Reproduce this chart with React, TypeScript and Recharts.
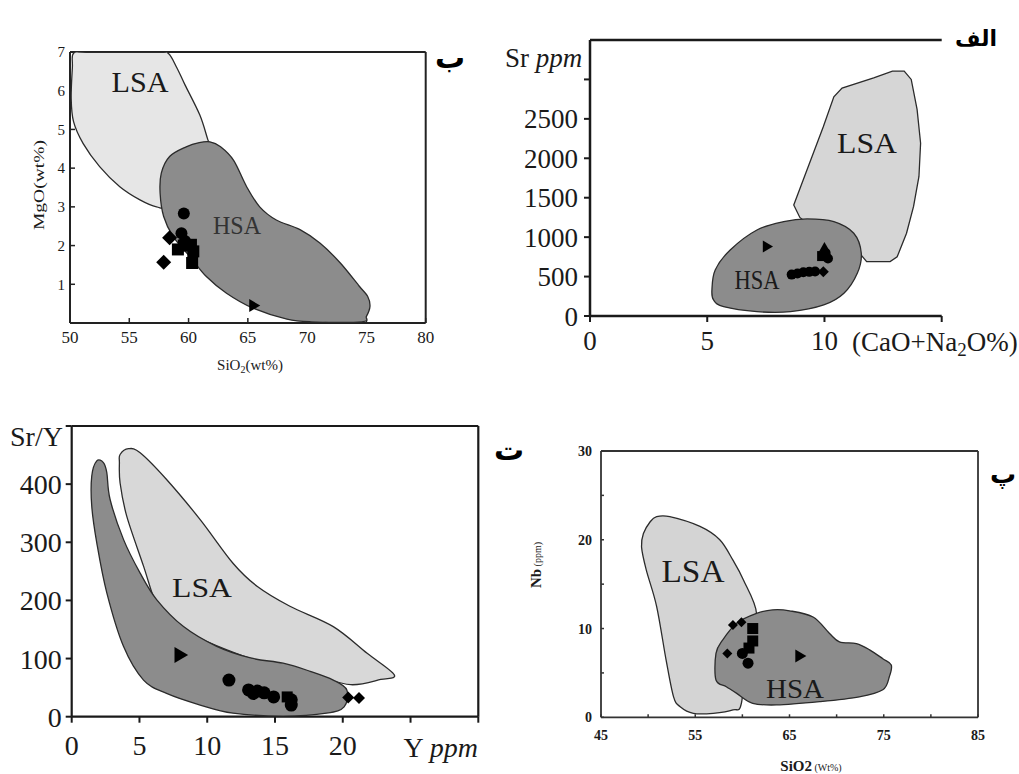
import React from 'react';
import { ScatterChart, Scatter, XAxis, YAxis, ReferenceLine } from 'recharts';

type Pt = { x: number; y: number };

// panel ب : MgO vs SiO2
const mgX = [50, 55, 60, 65, 70, 75, 80];
const mgY = [1, 2, 3, 4, 5, 6, 7];
const mgLsa: Pt[] = [
  { x: 50.3, y: 6.97 }, { x: 51.5, y: 6.99 }, { x: 57.4, y: 6.99 }, { x: 58.3, y: 6.96 }, { x: 59.0, y: 6.6 },
  { x: 59.7, y: 6.15 }, { x: 60.95, y: 5.37 }, { x: 61.63, y: 4.73 }, { x: 62.0, y: 4.4 }, { x: 61.0, y: 3.6 },
  { x: 58.6, y: 3.0 }, { x: 57.3, y: 3.0 }, { x: 55.9, y: 3.18 }, { x: 54.2, y: 3.52 }, { x: 52.5, y: 4.04 },
  { x: 51.1, y: 4.64 }, { x: 50.3, y: 5.2 }, { x: 50.1, y: 5.8 }, { x: 50.2, y: 6.6 },
];
const mgHsa: Pt[] = [
  { x: 61.8, y: 4.68 }, { x: 62.7, y: 4.55 }, { x: 63.8, y: 4.2 }, { x: 64.9, y: 3.52 }, { x: 66.0, y: 3.0 },
  { x: 67.4, y: 2.66 }, { x: 69.4, y: 2.41 }, { x: 71.1, y: 2.06 }, { x: 72.8, y: 1.55 }, { x: 74.4, y: 0.95 },
  { x: 75.1, y: 0.69 }, { x: 75.3, y: 0.43 }, { x: 75.0, y: 0.17 }, { x: 74.6, y: 0.03 }, { x: 70.4, y: 0.03 },
  { x: 68.3, y: 0.1 }, { x: 65.4, y: 0.39 }, { x: 63.2, y: 0.77 }, { x: 61.5, y: 1.2 }, { x: 60.1, y: 1.72 },
  { x: 58.7, y: 2.23 }, { x: 57.9, y: 2.75 }, { x: 57.6, y: 3.35 }, { x: 57.7, y: 3.87 }, { x: 58.4, y: 4.3 },
  { x: 59.8, y: 4.55 }, { x: 60.9, y: 4.66 },
];
const mgCircle: Pt[] = [{ x: 59.6, y: 2.83 }, { x: 59.4, y: 2.32 }, { x: 59.7, y: 2.12 }];
const mgSquare: Pt[] = [{ x: 59.1, y: 1.9 }, { x: 59.6, y: 2.0 }, { x: 60.2, y: 2.02 }, { x: 60.4, y: 1.85 }, { x: 60.3, y: 1.55 }];
const mgDiamond: Pt[] = [{ x: 58.4, y: 2.2 }, { x: 57.9, y: 1.57 }];
const mgTri: Pt[] = [{ x: 65.5, y: 0.45 }];

// panel الف : Sr vs CaO+Na2O
const srX = [0, 5, 10, 15];
const srY = [0, 500, 1000, 1500, 2000, 2500, 3000];
const srLsa: Pt[] = [
  { x: 8.69, y: 1408 }, { x: 9.1, y: 1730 }, { x: 9.95, y: 2400 }, { x: 10.4, y: 2780 }, { x: 10.75, y: 2890 },
  { x: 12.1, y: 3020 }, { x: 12.9, y: 3105 }, { x: 13.4, y: 3105 }, { x: 13.7, y: 3000 }, { x: 13.95, y: 2620 },
  { x: 14.1, y: 2190 }, { x: 14.03, y: 1770 }, { x: 13.8, y: 1390 }, { x: 13.5, y: 1050 }, { x: 13.1, y: 750 },
  { x: 12.8, y: 690 }, { x: 11.8, y: 690 }, { x: 11.5, y: 795 }, { x: 10.0, y: 1000 }, { x: 8.95, y: 1250 },
];
const srHsa: Pt[] = [
  { x: 5.2, y: 330 }, { x: 5.34, y: 584 }, { x: 5.98, y: 838 }, { x: 7.12, y: 1091 }, { x: 8.26, y: 1197 },
  { x: 9.26, y: 1231 }, { x: 10.4, y: 1197 }, { x: 11.25, y: 1049 }, { x: 11.57, y: 795 }, { x: 11.4, y: 541 },
  { x: 10.83, y: 288 }, { x: 9.97, y: 140 }, { x: 8.55, y: 55 }, { x: 7.12, y: 55 }, { x: 5.7, y: 118 }, { x: 5.27, y: 203 },
];
const srCircle: Pt[] = [
  { x: 8.6, y: 525 }, { x: 8.85, y: 540 }, { x: 9.1, y: 555 }, { x: 9.35, y: 560 }, { x: 9.6, y: 565 },
  { x: 10.05, y: 800 }, { x: 10.15, y: 730 },
];
const srDiamond: Pt[] = [{ x: 9.95, y: 560 }];
const srSquare: Pt[] = [{ x: 9.9, y: 760 }];
const srUp: Pt[] = [{ x: 10.0, y: 870 }];
const srTri: Pt[] = [{ x: 7.55, y: 880 }];

// panel ت : Sr/Y vs Y
const syX = [0, 5, 10, 15, 20, 25, 30];
const syY = [0, 100, 200, 300, 400, 500];
const syLsa: Pt[] = [
  { x: 3.57, y: 451 }, { x: 4.19, y: 461 }, { x: 5.05, y: 454 }, { x: 7.0, y: 408 }, { x: 9.48, y: 339 },
  { x: 11.9, y: 264 }, { x: 13.7, y: 224 }, { x: 16.1, y: 190 }, { x: 19.3, y: 155 }, { x: 21.8, y: 109 },
  { x: 23.8, y: 72 }, { x: 22.8, y: 64 }, { x: 20.6, y: 55 }, { x: 18.1, y: 70 }, { x: 15.9, y: 85 },
  { x: 13.9, y: 95 }, { x: 11.45, y: 115 }, { x: 8.99, y: 140 }, { x: 7.0, y: 170 }, { x: 6.16, y: 198 },
  { x: 5.3, y: 259 }, { x: 4.06, y: 345 }, { x: 3.57, y: 402 }, { x: 3.52, y: 437 },
];
const syHsa: Pt[] = [
  { x: 1.48, y: 414 }, { x: 1.85, y: 440 }, { x: 2.34, y: 437 }, { x: 2.59, y: 420 }, { x: 2.83, y: 374 },
  { x: 3.82, y: 305 }, { x: 5.05, y: 247 }, { x: 6.28, y: 201 }, { x: 8.25, y: 155 }, { x: 10.7, y: 121 },
  { x: 13.2, y: 101 }, { x: 15.6, y: 92 }, { x: 17.6, y: 78 }, { x: 19.3, y: 63 }, { x: 20.3, y: 46 },
  { x: 20.1, y: 17 }, { x: 18.8, y: 6 }, { x: 15.6, y: 1 }, { x: 11.9, y: 6 }, { x: 9.48, y: 20 },
  { x: 7.0, y: 40 }, { x: 5.3, y: 63 }, { x: 3.82, y: 121 }, { x: 2.59, y: 213 }, { x: 1.85, y: 299 }, { x: 1.48, y: 362 },
];
const syCircle: Pt[] = [
  { x: 11.6, y: 63 }, { x: 13.05, y: 46 }, { x: 13.4, y: 40 }, { x: 13.7, y: 44 }, { x: 14.2, y: 41 },
  { x: 14.9, y: 34 }, { x: 16.2, y: 29 }, { x: 16.2, y: 20 },
];
const sySquare: Pt[] = [{ x: 15.9, y: 34 }];
const syDiamond: Pt[] = [{ x: 20.4, y: 33 }, { x: 21.2, y: 32 }];
const syTri: Pt[] = [{ x: 8.0, y: 106 }];

// panel پ : Nb vs SiO2
const nbX = [45, 50, 55, 60, 65, 70, 75, 80, 85];
const nbY = [0, 5, 10, 15, 20, 25, 30];
const nbLsa: Pt[] = [
  { x: 50.9, y: 22.6 }, { x: 52.3, y: 22.6 }, { x: 55.5, y: 21.5 }, { x: 57.6, y: 20.0 }, { x: 59.0, y: 17.7 },
  { x: 60.1, y: 15.5 }, { x: 61.5, y: 11.7 }, { x: 60.5, y: 8.0 }, { x: 59.9, y: 1.6 }, { x: 59.0, y: 0.83 },
  { x: 56.9, y: 0.45 }, { x: 54.8, y: 0.45 }, { x: 53.4, y: 1.2 }, { x: 52.7, y: 2.3 }, { x: 51.9, y: 6.5 },
  { x: 50.9, y: 12.5 }, { x: 49.8, y: 16.6 }, { x: 49.3, y: 19.2 }, { x: 49.5, y: 20.7 }, { x: 50.2, y: 22.0 },
];
const nbHsa: Pt[] = [
  { x: 57.2, y: 4.2 }, { x: 57.2, y: 7.2 }, { x: 57.9, y: 8.7 }, { x: 59.4, y: 10.6 }, { x: 61.5, y: 11.7 },
  { x: 63.2, y: 12.1 }, { x: 65.0, y: 12.0 }, { x: 67.5, y: 11.3 }, { x: 69.2, y: 9.5 }, { x: 70.3, y: 8.5 },
  { x: 72.1, y: 8.3 }, { x: 73.5, y: 7.6 }, { x: 74.9, y: 6.6 }, { x: 75.8, y: 5.9 }, { x: 75.6, y: 4.6 },
  { x: 74.9, y: 3.1 }, { x: 72.4, y: 2.3 }, { x: 68.2, y: 1.76 }, { x: 63.6, y: 1.39 }, { x: 61.1, y: 1.58 },
  { x: 59.4, y: 2.7 }, { x: 58.3, y: 3.45 },
];
const nbDiamond: Pt[] = [{ x: 59.0, y: 10.4 }, { x: 59.9, y: 10.7 }, { x: 58.4, y: 7.2 }];
const nbSquare: Pt[] = [{ x: 61.1, y: 10.0 }, { x: 61.1, y: 8.6 }, { x: 60.7, y: 7.8 }];
const nbCircle: Pt[] = [{ x: 60.0, y: 7.2 }, { x: 60.6, y: 6.1 }];
const nbTri: Pt[] = [{ x: 66.1, y: 6.9 }];

const W = 1019;
const H = 774;
const SERIF = '"Liberation Serif", "Times New Roman", serif';
const INK = '#1a1a1a';
const DARK = '#8c8c8c';

function closedPath(pts: { x: number; y: number }[], smooth: boolean) {
  if (!pts || !pts.length) return '';
  if (!smooth) return 'M' + pts.map((p) => `${p.x},${p.y}`).join('L') + 'Z';
  const n = pts.length;
  let d = `M${pts[0].x},${pts[0].y}`;
  for (let i = 0; i < n; i++) {
    const p0 = pts[(i - 1 + n) % n];
    const p1 = pts[i];
    const p2 = pts[(i + 1) % n];
    const p3 = pts[(i + 2) % n];
    const c1x = p1.x + (p2.x - p0.x) / 6;
    const c1y = p1.y + (p2.y - p0.y) / 6;
    const c2x = p2.x - (p3.x - p1.x) / 6;
    const c2y = p2.y - (p3.y - p1.y) / 6;
    d += `C${c1x},${c1y} ${c2x},${c2y} ${p2.x},${p2.y}`;
  }
  return d + 'Z';
}

const noDot = () => <g />;

const field = (id: string, data: Pt[], fill: string, smooth = true, extra: any = {}) => (
  <Scatter
    key={id}
    data={data}
    isAnimationActive={false}
    shape={noDot}
    {...extra}
    line={(p: any) => <path d={closedPath(p.points, smooth)} fill={fill} stroke="#2b2b2b" strokeWidth={1.3} />}
  />
);

const marker = (kind: string, s: number) => (props: any) => {
  const { cx, cy } = props;
  if (cx == null || cy == null) return <g />;
  if (kind === 'circle') return <circle cx={cx} cy={cy} r={s / 2} fill="#000" />;
  if (kind === 'square') return <rect x={cx - s / 2} y={cy - s / 2} width={s} height={s} fill="#000" />;
  if (kind === 'diamond') {
    const h = s / 2;
    return <polygon points={`${cx},${cy - h} ${cx + h},${cy} ${cx},${cy + h} ${cx - h},${cy}`} fill="#000" />;
  }
  if (kind === 'up') {
    const h = s / 2;
    return <polygon points={`${cx},${cy - h} ${cx + h},${cy + h * 0.8} ${cx - h},${cy + h * 0.8}`} fill="#000" />;
  }
  const h = s / 2;
  return <polygon points={`${cx - h * 0.7},${cy - h} ${cx + h},${cy} ${cx - h * 0.7},${cy + h}`} fill="#000" />;
};

const dots = (id: string, data: Pt[], kind: string, s: number, extra: any = {}) => (
  <Scatter key={id} data={data} isAnimationActive={false} shape={marker(kind, s)} {...extra} />
);

const layer: React.CSSProperties = { position: 'absolute', left: 0, top: 0 };

function MgoChart() {
  const tick = { fontSize: 16, fill: INK, fontFamily: SERIF };
  const line = { stroke: '#222', strokeWidth: 2 };
  return (
    <div style={layer}>
      <ScatterChart width={W} height={H} margin={{ top: 52, right: 593.3, bottom: 421, left: 40 }}>
        <XAxis type="number" dataKey="x" domain={[50, 80]} ticks={mgX} interval={0} height={30} tickSize={-5} tickMargin={13}
          axisLine={line} tickLine={{ stroke: '#222', strokeWidth: 1.5 }} tick={{ ...tick, fontSize: 17 }} allowDataOverflow />
        <YAxis type="number" dataKey="y" domain={[0, 7]} ticks={mgY} interval={0} width={30} tickSize={-5} tickMargin={10}
          axisLine={line} tickLine={{ stroke: '#222', strokeWidth: 1.5 }} tick={{ ...tick, fontSize: 15 }} allowDataOverflow />
        <ReferenceLine y={7} stroke="#222" strokeWidth={2} />
        <ReferenceLine x={80} stroke="#222" strokeWidth={2} />
        {field('lsa', mgLsa, '#e6e6e6')}
        {field('hsa', mgHsa, DARK)}
        {dots('c', mgCircle, 'circle', 12)}
        {dots('s', mgSquare, 'square', 12)}
        {dots('d', mgDiamond, 'diamond', 15)}
        {dots('t', mgTri, 'tri', 13)}
      </ScatterChart>
    </div>
  );
}

function SrChart() {
  const tick = { fontSize: 27, fill: INK, fontFamily: SERIF };
  const line = { stroke: '#1a1a1a', strokeWidth: 2.5 };
  return (
    <div style={layer}>
      <ScatterChart width={W} height={H} margin={{ top: 40, right: 77.3, bottom: 418, left: 510 }}>
        <XAxis type="number" dataKey="x" domain={[0, 15]} ticks={srX} interval={0} height={40} tickSize={6} tickMargin={9}
          tickFormatter={(v: number) => (v === 15 ? '' : String(v))}
          axisLine={line} tickLine={{ stroke: '#1a1a1a', strokeWidth: 2 }} tick={tick} allowDataOverflow />
        <YAxis type="number" dataKey="y" domain={[0, 3500]} ticks={srY} interval={0} width={80} tickSize={6} tickMargin={6}
          tickFormatter={(v: number) => (v === 3000 ? '' : String(v))}
          axisLine={line} tickLine={{ stroke: '#1a1a1a', strokeWidth: 2 }} tick={tick} allowDataOverflow />
        <ReferenceLine y={3500} stroke="#1a1a1a" strokeWidth={2.5} />
        {field('lsa', srLsa, '#d6d6d6', false)}
        {field('hsa', srHsa, DARK)}
        {dots('c', srCircle, 'circle', 10)}
        {dots('d', srDiamond, 'diamond', 11)}
        {dots('s', srSquare, 'square', 10)}
        {dots('u', srUp, 'up', 11)}
        {dots('t', srTri, 'tri', 12)}
      </ScatterChart>
    </div>
  );
}

function SrYChart() {
  const tick = { fontSize: 28, fill: INK, fontFamily: SERIF };
  const line = { stroke: '#1a1a1a', strokeWidth: 2.2 };
  return (
    <div style={layer}>
      <ScatterChart width={W} height={H} margin={{ top: 426, right: 540.7, bottom: 17.3, left: 1.7 }}>
        <XAxis type="number" dataKey="x" domain={[0, 30]} ticks={syX} interval={0} height={40} tickSize={6} tickMargin={12}
          tickFormatter={(v: number) => (v > 20 ? '' : String(v))}
          axisLine={line} tickLine={{ stroke: '#1a1a1a', strokeWidth: 2 }} tick={tick} allowDataOverflow />
        <YAxis type="number" dataKey="y" domain={[0, 500]} ticks={syY} interval={0} width={70} tickSize={6} tickMargin={4}
          tickFormatter={(v: number) => (v === 500 ? '' : String(v))}
          axisLine={line} tickLine={{ stroke: '#1a1a1a', strokeWidth: 2 }} tick={tick} allowDataOverflow />
        <ReferenceLine y={500} stroke="#1a1a1a" strokeWidth={2.2} />
        <ReferenceLine x={30} stroke="#1a1a1a" strokeWidth={2.2} />
        {field('lsa', syLsa, '#d8d8d8')}
        {field('hsa', syHsa, DARK)}
        {dots('c', syCircle, 'circle', 13)}
        {dots('s', sySquare, 'square', 11)}
        {dots('d', syDiamond, 'diamond', 12)}
        {dots('t', syTri, 'tri', 16)}
      </ScatterChart>
    </div>
  );
}

function NbChart() {
  const tick = { fontSize: 14, fill: INK, fontFamily: SERIF, fontWeight: 700 };
  const line = { stroke: '#333', strokeWidth: 1.8 };
  const tl = { stroke: '#333', strokeWidth: 1.5 };
  const fx = (v: number) => ((v - 45) % 10 === 0 ? String(v) : '');
  const fy = (v: number) => (v % 10 === 0 ? String(v) : '');
  return (
    <div style={layer}>
      <ScatterChart width={W} height={H} margin={{ top: 450, right: 40, bottom: 26.7, left: 561 }}>
        <XAxis xAxisId={0} type="number" dataKey="x" domain={[45, 85]} ticks={nbX} interval={0} height={30} tickSize={-3} tickMargin={16}
          tickFormatter={fx} axisLine={line} tickLine={tl} tick={tick} allowDataOverflow />
        <XAxis xAxisId="top" orientation="top" type="number" dataKey="x" domain={[45, 85]} ticks={nbX} interval={0} height={1}
          tickSize={-3} axisLine={line} tickLine={tl} tick={false} allowDataOverflow />
        <YAxis yAxisId={0} type="number" dataKey="y" domain={[0, 30]} ticks={nbY} interval={0} width={40} tickSize={-3} tickMargin={12}
          tickFormatter={fy} axisLine={line} tickLine={tl} tick={tick} allowDataOverflow />
        <YAxis yAxisId="right" orientation="right" type="number" dataKey="y" domain={[0, 30]} ticks={nbY} interval={0} width={1}
          tickSize={-3} axisLine={line} tickLine={tl} tick={false} allowDataOverflow />
        {field('lsa', nbLsa, '#d4d4d4')}
        {field('hsa', nbHsa, DARK)}
        {dots('d', nbDiamond, 'diamond', 10)}
        {dots('s', nbSquare, 'square', 11)}
        {dots('c', nbCircle, 'circle', 11)}
        {dots('t', nbTri, 'tri', 13)}
      </ScatterChart>
    </div>
  );
}

function Label({ x, y, fs, w, children, fill = INK }: any) {
  return (
    <text x={x} y={y + fs * 0.33} fontSize={fs} fontFamily={SERIF} textAnchor="middle" fill={fill}
      textLength={w} lengthAdjust="spacingAndGlyphs">
      {children}
    </text>
  );
}

function Overlay() {
  const fa = { fontFamily: '"DejaVu Sans", sans-serif', fontWeight: 700, fill: '#000', textAnchor: 'middle' as const };
  return (
    <svg width={W} height={H} style={{ ...layer, pointerEvents: 'none' }}>
      {/* field names */}
      <Label x={140} y={82} fs={30} w={57}>LSA</Label>
      <Label x={237} y={225} fs={26} w={48} fill="#333">HSA</Label>
      <Label x={867} y={143} fs={30} w={60}>LSA</Label>
      <Label x={757} y={280} fs={28} w={45}>HSA</Label>
      <Label x={202} y={588} fs={27} w={60}>LSA</Label>
      <Label x={693} y={572} fs={31} w={63}>LSA</Label>
      <Label x={795} y={689} fs={28} w={58}>HSA</Label>

      {/* ب axis titles */}
      <text transform="translate(44,185) rotate(-90)" fontSize={15} fontFamily={SERIF} textAnchor="middle" fill={INK}
        textLength={90} lengthAdjust="spacingAndGlyphs">MgO(wt%)</text>
      <text x={250} y={370} fontSize={15} fontFamily={SERIF} textAnchor="middle" fill={INK}>
        SiO<tspan fontSize={10} dy={3}>2</tspan><tspan dy={-3}>(wt%)</tspan>
      </text>

      {/* الف axis titles */}
      <text x={505} y={67} fontSize={27} fontFamily={SERIF} fill={INK}>
        Sr <tspan fontStyle="italic">ppm</tspan>
      </text>
      <text x={852} y={351} fontSize={27} fontFamily={SERIF} fill={INK}>
        (CaO+Na<tspan fontSize={19} dy={5}>2</tspan><tspan dy={-5}>O%)</tspan>
      </text>

      {/* ت axis titles */}
      <text x={10} y={446} fontSize={28} fontFamily={SERIF} fill={INK}>Sr/Y</text>
      <text x={478} y={757} fontSize={28} fontFamily={SERIF} fill={INK} textAnchor="end">
        Y <tspan fontStyle="italic">ppm</tspan>
      </text>

      {/* پ axis titles */}
      <text transform="translate(541,565) rotate(-90)" fontFamily={SERIF} fill={INK} textAnchor="middle">
        <tspan fontSize={15} fontWeight={700}>Nb</tspan>
        <tspan fontSize={10}> (ppm)</tspan>
      </text>
      <text x={811} y={771} fontFamily={SERIF} fill={INK} textAnchor="middle">
        <tspan fontSize={15} fontWeight={700}>SiO2</tspan>
        <tspan fontSize={10}> (Wt%)</tspan>
      </text>

      {/* panel letters */}
      <text x={450} y={68} fontSize={30} {...fa}>ب</text>
      <text x={976} y={46} fontSize={22} {...fa}>الف</text>
      <text x={509} y={460} fontSize={30} {...fa}>ت</text>
      <text x={1003} y={483} fontSize={26} {...fa}>پ</text>
    </svg>
  );
}

export default function App() {
  return (
    <div style={{ position: 'relative', width: W, height: H, background: '#fff', overflow: 'hidden' }}>
      <style>{'body{margin:0}'}</style>
      <MgoChart />
      <SrChart />
      <SrYChart />
      <NbChart />
      <Overlay />
    </div>
  );
}
